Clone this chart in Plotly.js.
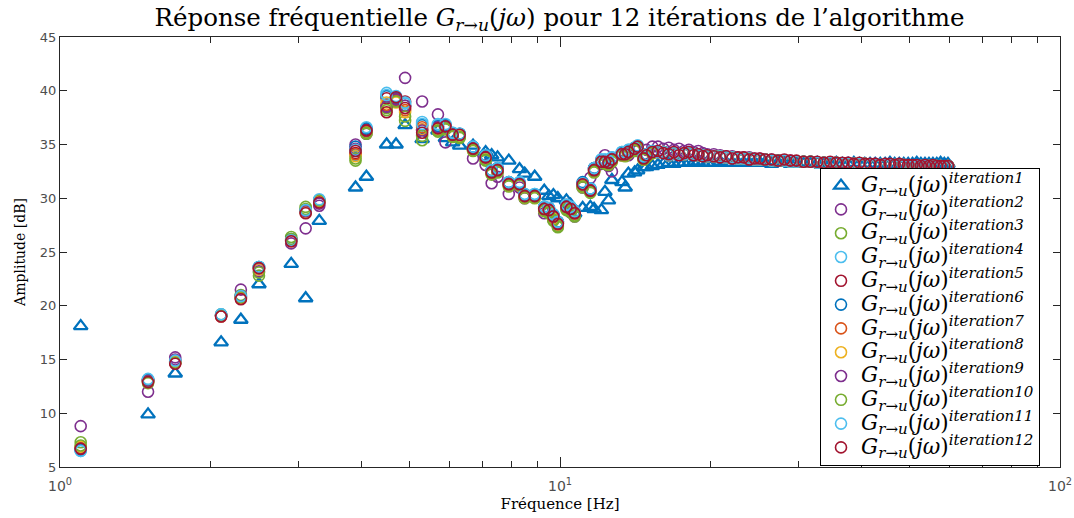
<!DOCTYPE html>
<html>
<head>
<meta charset="utf-8">
<script src="https://cdn.plot.ly/plotly-3.0.1.min.js"></script>
<style>html,body{margin:0;padding:0;background:#fff;}#chart{width:1074px;height:518px;}</style>
</head>
<body>
<div id="chart"></div>
<script>
// Frequencies [Hz]
const freqLow = [1.1,1.5,1.7,2.1,2.3,2.5,2.9,3.1,3.3,3.9,4.1,4.5,4.7,4.9,5.3,5.7,5.9,6.1,6.3,6.7,7.1,7.3,7.5,7.9,8.3,8.5,8.9,9.3,9.5,9.7,9.9,10.3,10.5,10.7,11.1,11.5,11.7,12.1,12.3,12.5,12.7,13.3,13.5,13.7,14.1,14.3,14.7,14.9,15.3];
const freqHigh = [15.7,16.1,16.5,16.9,17.3,17.7,18.1,18.5,18.9,19.3,19.7,20.3,20.9,21.5,22.1,22.7,23.3,23.9,24.5,25.1,25.7,26.5,27.3,28.1,28.9,29.7,30.7,31.7,32.7,33.7,34.7,35.7,36.7,37.7,38.7,39.7,40.7,41.7,42.7,43.7,44.7,45.7,46.7,47.7,48.7,49.7,50.7,51.7,52.7,53.7,54.7,55.7,56.7,57.7,58.7,59.7];

// Amplitudes [dB], low-frequency part, per iteration
const ampLow1  = [18.1,9.9,13.7,16.6,18.7,22.0,23.9,20.7,27.9,31.0,32.0,35.0,35.0,36.8,35.5,36.3,35.6,35.2,34.9,34.9,34.3,34.0,33.8,33.5,32.7,32.3,32.0,30.7,30.2,30.3,30.0,29.8,29.4,28.6,29.1,29.2,29.0,28.9,30.6,29.8,31.7,31.5,31.0,32.3,32.4,32.6,32.9,32.9,33.0];
const ampLow2  = [8.8,12.0,15.2,19.1,21.5,23.2,25.8,27.2,29.3,35.0,36.0,38.6,39.3,41.2,39.0,37.8,35.2,36.0,35.8,33.7,33.1,31.4,32.0,30.4,31.0,30.0,30.3,28.6,28.8,28.0,27.8,29.4,28.7,28.3,31.0,31.9,32.8,33.2,34.0,33.0,32.5,34.0,34.3,34.0,34.5,34.4,34.1,34.5,34.8];
const ampLow3  = [7.3,12.8,14.8,19.2,21.0,22.8,26.4,29.2,29.8,33.5,36.0,38.4,39.0,37.2,35.4,36.2,36.4,35.7,35.6,34.4,33.5,32.2,32.4,31.1,31.2,30.0,30.0,28.8,28.6,27.9,27.3,28.9,28.7,28.3,31.0,30.5,32.4,33.3,33.2,33.1,33.4,34.0,33.9,34.2,34.4,34.6,33.6,33.8,34.2];
const ampLow4  = [6.5,13.1,14.9,19.2,20.8,23.6,26.1,28.8,29.8,34.0,36.5,39.8,39.2,38.8,37.1,36.8,36.8,36.1,36.0,34.8,34.0,32.6,32.8,31.5,31.5,30.4,30.4,29.2,29.1,28.5,27.8,29.4,29.2,28.8,31.4,30.9,32.8,33.6,33.6,33.5,33.8,34.3,34.2,34.5,34.7,34.9,33.9,34.1,34.4];
const ampLow5  = [6.8,13.0,14.7,19.1,20.7,23.4,26.1,28.7,29.7,34.2,36.4,39.3,39.2,39.0,36.4,36.6,36.6,36.0,35.8,34.7,33.9,32.5,32.7,31.4,31.3,30.3,30.2,29.1,29.0,28.4,27.7,29.3,29.1,28.7,31.3,30.8,32.7,33.5,33.4,33.3,33.7,34.2,34.1,34.4,34.6,34.7,33.8,34.0,34.3];
const ampLow6  = [6.6,13.1,14.8,19.1,20.9,23.6,26.2,28.9,29.8,34.8,36.5,39.5,39.4,38.6,36.8,36.7,36.8,36.0,36.0,34.8,34.0,32.6,32.8,31.5,31.4,30.3,30.3,29.2,29.1,28.4,27.8,29.3,29.1,28.8,31.5,30.9,32.8,33.5,33.5,33.4,33.7,34.2,34.2,34.4,34.7,34.8,33.8,34.1,34.4];
const ampLow7  = [6.8,13.0,14.7,19.0,20.7,23.5,26.0,28.8,29.7,34.1,36.2,38.7,39.1,38.2,36.6,36.5,36.6,35.9,35.9,34.6,33.8,32.4,32.6,31.3,31.2,30.2,30.2,29.0,28.9,28.2,27.6,29.2,29.0,28.6,31.2,30.7,32.6,33.4,33.4,33.3,33.6,34.1,34.1,34.3,34.5,34.7,33.7,34.0,34.3];
const ampLow8  = [6.9,12.9,14.8,19.1,20.8,23.4,26.1,28.7,29.7,33.9,36.1,38.9,38.9,38.0,36.4,36.4,36.5,35.8,35.8,34.5,33.7,32.3,32.5,31.2,31.2,30.1,30.1,28.9,28.8,28.1,27.5,29.1,28.9,28.5,31.1,30.6,32.5,33.3,33.3,33.2,33.5,34.0,34.0,34.2,34.5,34.7,33.6,33.9,34.2];
const ampLow9  = [6.7,13.0,15.0,19.1,20.9,23.5,26.1,28.8,29.5,34.6,36.3,38.5,39.2,38.6,36.3,36.6,36.6,35.9,35.9,34.6,33.8,32.4,32.6,31.3,31.3,30.2,30.2,29.0,28.9,28.3,27.6,29.2,29.0,28.6,31.3,30.7,32.6,33.4,33.4,33.3,33.6,34.1,34.1,34.3,34.6,34.8,33.7,34.0,34.3];
const ampLow10 = [7.0,12.9,14.7,19.1,20.8,23.1,26.2,29.0,29.8,33.7,36.1,38.2,39.0,37.6,35.8,36.3,36.5,35.8,35.7,34.5,33.6,32.3,32.5,31.2,31.2,30.1,30.1,28.9,28.7,28.0,27.4,29.0,28.8,28.4,31.1,30.6,32.5,33.3,33.3,33.2,33.5,34.0,34.0,34.2,34.5,34.7,33.6,33.9,34.2];
const ampLow11 = [6.5,13.2,14.9,19.2,20.9,23.6,26.1,28.9,29.9,34.5,36.6,39.6,39.5,38.9,36.9,36.9,36.9,36.1,36.0,34.8,34.0,32.6,32.8,31.5,31.5,30.4,30.4,29.2,29.1,28.5,27.8,29.4,29.2,28.8,31.4,30.9,32.8,33.6,33.6,33.5,33.8,34.3,34.2,34.5,34.7,34.9,33.9,34.1,34.4];
const ampLow12 = [6.7,12.9,14.6,19.0,20.6,23.5,26.0,28.6,29.6,34.4,36.3,38.0,39.4,38.4,36.1,36.5,36.7,35.9,35.9,34.6,33.8,32.4,32.6,31.3,31.3,30.2,30.2,29.0,28.9,28.3,27.6,29.2,29.0,28.6,31.3,30.7,32.6,33.4,33.4,33.3,33.6,34.1,34.1,34.3,34.6,34.8,33.7,34.0,34.3];

// Amplitudes [dB], high-frequency part
const ampHigh1 = [33.1,33.2,33.3,33.2,33.3,33.3,33.3,33.3,33.4,33.3,33.3,33.3,33.4,33.3,33.3,33.3,33.3,33.3,33.3,33.3,33.3,33.2,33.3,33.3,33.2,33.3,33.2,33.2,33.3,33.2,33.2,33.3,33.2,33.2,33.3,33.2,33.2,33.2,33.2,33.2,33.2,33.3,33.2,33.2,33.2,33.2,33.2,33.3,33.2,33.2,33.2,33.2,33.2,33.3,33.2,33.2];
const ampHigh2 = [34.8,34.6,34.7,34.5,34.6,34.4,34.5,34.3,34.4,34.2,34.1,34.1,34.0,33.9,33.9,33.8,33.8,33.8,33.7,33.7,33.6,33.6,33.5,33.5,33.5,33.4,33.4,33.4,33.3,33.3,33.3,33.3,33.2,33.3,33.2,33.2,33.2,33.1,33.2,33.1,33.1,33.1,33.1,33.1,33.0,33.1,33.0,33.0,33.0,33.0,33.0,33.0,33.0,33.0,33.0,33.0];
const ampHighMid = [34.3,34.3,34.0,34.2,34.1,34.1,34.2,34.1,34.0,34.0,33.9,33.9,33.9,33.8,33.8,33.7,33.7,33.7,33.6,33.6,33.6,33.5,33.5,33.5,33.4,33.4,33.4,33.4,33.3,33.3,33.3,33.3,33.2,33.2,33.2,33.2,33.2,33.1,33.1,33.1,33.1,33.1,33.1,33.0,33.1,33.0,33.0,33.0,33.0,33.0,33.0,32.9,33.0,33.0,32.9,33.0];
const ampHigh12 = [34.4,34.2,34.1,34.3,34.0,34.2,34.3,34.0,34.1,33.9,34.0,33.9,33.8,33.9,33.7,33.8,33.8,33.6,33.7,33.7,33.6,33.6,33.5,33.6,33.5,33.5,33.4,33.4,33.4,33.3,33.4,33.3,33.3,33.3,33.2,33.3,33.2,33.2,33.2,33.1,33.2,33.2,33.1,33.2,33.1,33.1,33.1,33.1,33.0,33.1,33.0,33.1,33.0,33.0,33.0,33.0];

const iterNames = ['1','2','3','4','5','6','7','8','9','10','11','12'];
const iterColors = ['#0072BD','#7E2F8E','#77AC30','#4DBEEE','#A2142F','#0072BD','#D95319','#EDB120','#7E2F8E','#77AC30','#4DBEEE','#A2142F'];
const lowSets = [ampLow1,ampLow2,ampLow3,ampLow4,ampLow5,ampLow6,ampLow7,ampLow8,ampLow9,ampLow10,ampLow11,ampLow12];
const highSets = [ampHigh1,ampHigh2,ampHighMid,ampHighMid,ampHighMid,ampHighMid,ampHighMid,ampHighMid,ampHighMid,ampHighMid,ampHighMid,ampHigh12];

const freqAll = freqLow.concat(freqHigh);
const traces = iterNames.map((n, i) => ({
  type: 'scatter',
  mode: 'markers',
  x: freqAll,
  y: lowSets[i].concat(highSets[i]),
  name: '<span style="font-size:21.5px"><i>G</i><sub><i>r</i>→<i>u</i></sub>(<i>jω</i>)<sup><i>iteration' + n + '</i></sup></span>',
  marker: i === 0
    ? {symbol: 'triangle-up-open', size: 12, color: iterColors[i], line: {width: 2.3, color: iterColors[i]}}
    : {symbol: 'circle-open', size: 11, color: iterColors[i], line: {width: 1.6, color: iterColors[i]}},
  cliponaxis: true
}));

const majorX = [1, 10, 100];
const majorXText = ['10<sup>0</sup>', '10<sup>1</sup>', '10<sup>2</sup>'];
const minorX = [2,3,4,5,6,7,8,9,20,30,40,50,60,70,80,90];

const serif = 'DejaVu Serif, Liberation Serif, serif';
const layout = {
  width: 1074, height: 518,
  paper_bgcolor: '#fff', plot_bgcolor: '#fff',
  margin: {l: 60, r: 14, t: 37, b: 51},
  showlegend: true,
  title: {
    text: 'Réponse fréquentielle <i>G</i><sub><i>r</i>→<i>u</i></sub>(<i>jω</i>) pour 12 itérations de l’algorithme',
    font: {family: serif, size: 24.5, color: '#000'},
    x: 0.521, xanchor: 'center', y: 0.967, yanchor: 'middle'
  },
  xaxis: {
    type: 'log', range: [0, 2],
    tickmode: 'array', tickvals: majorX, ticktext: majorXText,
    ticks: 'inside', ticklen: 10, tickwidth: 1, tickcolor: '#262626',
    minor: {tickmode: 'array', tickvals: minorX, ticks: 'inside', ticklen: 6, tickcolor: '#262626', showgrid: false},
    showline: true, linecolor: '#262626', linewidth: 1, mirror: 'ticks',
    showgrid: false, zeroline: false,
    ticklabelstandoff: 6,
    tickfont: {family: 'DejaVu Sans, sans-serif', size: 14, color: '#4d4d4d'},
    title: {text: 'Fréquence [Hz]', font: {family: serif, size: 15, color: '#000'}, standoff: 5}
  },
  yaxis: {
    range: [5, 45], tickmode: 'array', tickvals: [5,10,15,20,25,30,35,40,45],
    ticks: 'inside', ticklen: 7, tickwidth: 1, tickcolor: '#262626',
    showline: true, linecolor: '#262626', linewidth: 1, mirror: 'ticks',
    showgrid: false, zeroline: false,
    tickfont: {family: 'DejaVu Sans, sans-serif', size: 13, color: '#4d4d4d'},
    title: {text: 'Amplitude [dB]', font: {family: serif, size: 14, color: '#000'}, standoff: 10}
  },
  legend: {
    x: 0.98, xanchor: 'right', y: 0.003, yanchor: 'bottom',
    bgcolor: '#fff', bordercolor: '#000', borderwidth: 1,
    font: {family: serif, size: 16, color: '#000'},
    tracegroupgap: 0, itemwidth: 30
  }
};

Plotly.newPlot('chart', traces, layout, {displayModeBar: false, staticPlot: true});
</script>
</body>
</html>
